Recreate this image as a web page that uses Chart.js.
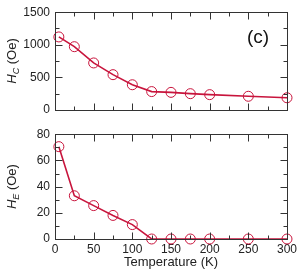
<!DOCTYPE html>
<html>
<head>
<meta charset="utf-8">
<script src="https://cdn.jsdelivr.net/npm/chart.js@4"></script>
<style>
  html, body { margin: 0; padding: 0; background: #fff; }
  #wrap { position: relative; width: 300px; height: 272px; }
  #wrap canvas { position: absolute; left: 0; }
</style>
</head>
<body>
<div id="wrap">
  <canvas id="hcChart" width="300" height="122" style="top:0"></canvas>
  <canvas id="heChart" width="300" height="150" style="top:122px"></canvas>
</div>
<script>
// temperatures (K)
const temps = [5, 25, 50, 75, 100, 125, 150, 175, 200, 250, 300];
// coercive field H_C (Oe)
const hcValues = [1120, 970, 720, 540, 385, 280, 268, 248, 233, 208, 185];
// exchange bias H_E (Oe)
const heValues = [70.5, 33, 25.5, 18, 11, 0, 0, 0, 0, 0, 0];

const xTicks = [0, 50, 100, 150, 200, 250, 300];
const hcTicks = [0, 500, 1000, 1500];
const heTicks = [0, 20, 40, 60, 80];

const red = '#c8143c';
const fontFam = '"Liberation Sans", Arial, sans-serif';

// frame + inward ticks on all four sides (major from the tick lists, minor halfway)
const frameTicks = {
  id: 'frameTicks',
  afterDraw(chart, args, opts) {
    const { ctx, chartArea: a, scales: { x, y } } = chart;
    ctx.save();
    ctx.strokeStyle = '#333';
    ctx.lineWidth = 1;
    const L = Math.round(a.left) + 0.5, R = Math.round(a.right) + 0.5;
    const T = Math.round(a.top) + 0.5, B = Math.round(a.bottom) + 0.5;
    ctx.strokeRect(L, T, R - L, B - T);
    ctx.beginPath();
    const xs = opts.xTicks, ys = opts.yTicks;
    for (let i = 0; i < xs.length; i++) {
      const vals = [[xs[i], 7]];
      if (i < xs.length - 1) vals.push([(xs[i] + xs[i + 1]) / 2, 4]);
      vals.forEach(([v, len]) => {
        const px = Math.round(x.getPixelForValue(v)) + 0.5;
        ctx.moveTo(px, B); ctx.lineTo(px, B - len);
        ctx.moveTo(px, T); ctx.lineTo(px, T + len);
      });
    }
    for (let i = 0; i < ys.length; i++) {
      const vals = [[ys[i], 7]];
      if (i < ys.length - 1) vals.push([(ys[i] + ys[i + 1]) / 2, 4]);
      vals.forEach(([v, len]) => {
        const py = Math.round(y.getPixelForValue(v)) + 0.5;
        ctx.moveTo(L, py); ctx.lineTo(L + len, py);
        ctx.moveTo(R, py); ctx.lineTo(R - len, py);
      });
    }
    ctx.stroke();

    // rotated y title with italic H and subscript
    const cy = (a.top + a.bottom) / 2;
    ctx.translate(16, cy);
    ctx.rotate(-Math.PI / 2);
    ctx.fillStyle = '#222';
    ctx.textBaseline = 'alphabetic';
    const f1 = 'italic 13px ' + fontFam, f2 = 'italic 9px ' + fontFam, f3 = '13px ' + fontFam;
    ctx.font = f1; const w1 = ctx.measureText('H').width;
    ctx.font = f2; const w2 = ctx.measureText(opts.sub).width;
    ctx.font = f3; const w3 = ctx.measureText(' (Oe)').width;
    let sx = -(w1 + w2 + w3) / 2;
    ctx.font = f1; ctx.fillText('H', sx, 0); sx += w1;
    ctx.font = f2; ctx.fillText(opts.sub, sx, 3); sx += w2;
    ctx.font = f3; ctx.fillText(' (Oe)', sx, 0);
    ctx.restore();

    if (opts.tag) {
      ctx.save();
      ctx.fillStyle = '#111';
      ctx.font = '19px ' + fontFam;
      ctx.textAlign = 'center';
      ctx.textBaseline = 'middle';
      ctx.fillText(opts.tag, 258, 38);
      ctx.restore();
    }
  }
};

function makeChart(id, values, yTicks, sub, tag, showX) {
  const yMax = yTicks[yTicks.length - 1];
  const step = yTicks[1] - yTicks[0];
  return new Chart(document.getElementById(id), {
    type: 'line',
    data: {
      labels: temps,
      datasets: [{
        data: temps.map((t, i) => ({ x: t, y: values[i] })),
        borderColor: red,
        borderWidth: 1.6,
        pointStyle: 'circle',
        pointRadius: 5,
        pointBorderWidth: 1,
        pointBorderColor: red,
        pointBackgroundColor: 'rgba(0,0,0,0)',
        tension: 0,
        clip: false
      }]
    },
    options: {
      responsive: false,
      animation: false,
      layout: { padding: { left: 0, right: 13, top: showX ? 10 : 7, bottom: 0 } },
      plugins: {
        legend: { display: false },
        tooltip: { enabled: false },
        frameTicks: { xTicks: xTicks, yTicks: yTicks, sub: sub, tag: tag }
      },
      scales: {
        x: {
          type: 'linear',
          min: xTicks[0],
          max: xTicks[xTicks.length - 1],
          grid: { display: false, drawTicks: false },
          border: { display: false },
          ticks: {
            display: showX,
            stepSize: 50,
            padding: 3,
            color: '#222',
            font: { family: fontFam, size: 12 },
            callback: v => String(v)
          },
          title: {
            display: showX,
            text: 'Temperature (K)',
            color: '#222',
            padding: { top: 0, bottom: 2 },
            font: { family: fontFam, size: 13 }
          },
          afterFit: s => { s.height = showX ? 33 : 8.5; }
        },
        y: {
          min: yTicks[0],
          max: yMax,
          grid: { display: false, drawTicks: false },
          border: { display: false },
          ticks: {
            stepSize: step,
            padding: 5,
            color: '#222',
            font: { family: fontFam, size: 12 },
            callback: v => String(v)
          },
          afterFit: s => { s.width = 55; }
        }
      }
    },
    plugins: [frameTicks]
  });
}

makeChart('hcChart', hcValues, hcTicks, 'C', '(c)', false);
makeChart('heChart', heValues, heTicks, 'E', '', true);
</script>
</body>
</html>
